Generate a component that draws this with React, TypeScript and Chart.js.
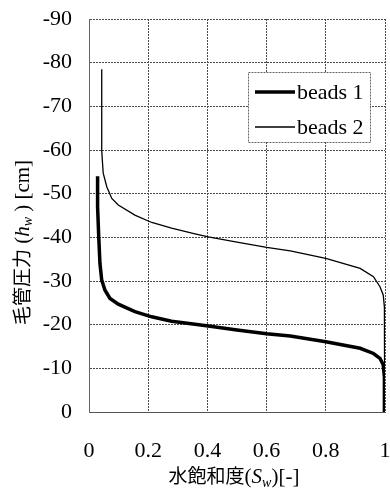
import React, { useEffect, useRef } from "react";
import { Chart, registerables } from "chart.js";

Chart.register(...registerables);

const seriesLabels = ["beads 1", "beads 2"];

const beads1X = [0.029, 0.029, 0.033, 0.037, 0.043, 0.054, 0.071, 0.099, 0.155, 0.212, 0.279, 0.358, 0.403, 0.5, 0.6, 0.68, 0.8, 0.916, 0.961, 0.983, 0.994, 0.998, 0.998];
const beads1Y = [-54, -47, -40, -34, -30.2, -27.9, -26.0, -24.7, -23.0, -21.8, -20.8, -20.1, -19.7, -18.8, -17.9, -17.4, -16.1, -14.6, -13.4, -12.3, -10.8, -8, 0];

const beads2X = [0.043, 0.043, 0.045, 0.048, 0.06, 0.077, 0.099, 0.155, 0.212, 0.279, 0.358, 0.403, 0.5, 0.6, 0.68, 0.8, 0.916, 0.961, 0.983, 0.994, 0.998, 0.999];
const beads2Y = [-78.5, -60, -57.7, -54.7, -51.6, -48.9, -47.4, -45.1, -43.4, -42.1, -40.8, -40.1, -38.9, -37.7, -36.9, -35.2, -32.9, -31.0, -28.7, -26.8, -24, 0];

const xTicks = [0, 0.2, 0.4, 0.6, 0.8, 1];
const yTicks = [0, -10, -20, -30, -40, -50, -60, -70, -80, -90];

const LATIN = "'Liberation Serif', 'Times New Roman', Times, serif";
const CJK = "'Noto Sans CJK JP', sans-serif";

type Piece = { t: string; size: number; italic?: boolean; dy?: number; cjk?: boolean };

function fontOf(p: Piece) {
  return `${p.italic ? "italic " : ""}${p.size}px ${p.cjk ? CJK : LATIN}`;
}

function drawPieces(ctx: CanvasRenderingContext2D, pieces: Piece[], cx: number, baseY: number) {
  let total = 0;
  const widths: number[] = [];
  for (const p of pieces) {
    ctx.font = fontOf(p);
    const w = ctx.measureText(p.t).width;
    widths.push(w);
    total += w;
  }
  let x = cx - total / 2;
  pieces.forEach((p, i) => {
    ctx.font = fontOf(p);
    ctx.fillText(p.t, x, baseY + (p.dy || 0));
    x += widths[i];
  });
}

const titlesPlugin = {
  id: "titlesPlugin",
  afterDraw(chart: any) {
    const ctx: CanvasRenderingContext2D = chart.ctx;
    const ca = chart.chartArea;
    ctx.save();
    ctx.fillStyle = "#000";
    ctx.textAlign = "left";
    ctx.textBaseline = "alphabetic";
    drawPieces(
      ctx,
      [
        { t: "水飽和度", size: 19, cjk: true },
        { t: "(", size: 21 },
        { t: "S", size: 21, italic: true },
        { t: "w", size: 14, italic: true, dy: 4 },
        { t: ")[-]", size: 21 },
      ],
      (ca.left + ca.right) / 2 - 3,
      483
    );
    ctx.translate(29, (ca.top + ca.bottom) / 2 + 27);
    ctx.rotate(-Math.PI / 2);
    drawPieces(
      ctx,
      [
        { t: "毛管圧力", size: 19, cjk: true },
        { t: " (", size: 21 },
        { t: "h", size: 21, italic: true },
        { t: "w", size: 14, italic: true, dy: 3 },
        { t: " ) [cm]", size: 21 },
      ],
      0,
      0
    );
    ctx.restore();

    const bx = ca.right - 137;
    const by = ca.top + 53;
    const bw = 122;
    const bh = 70;
    ctx.save();
    ctx.fillStyle = "#fff";
    ctx.fillRect(bx, by, bw, bh);
    ctx.strokeStyle = "#666";
    ctx.lineWidth = 1;
    ctx.setLineDash([2, 1]);
    ctx.strokeRect(bx + 0.5, by + 0.5, bw, bh);
    ctx.setLineDash([]);
    chart.data.datasets.forEach((ds: any, i: number) => {
      const y = by + 20 + i * 35;
      ctx.strokeStyle = ds.borderColor;
      ctx.lineWidth = ds.borderWidth;
      ctx.beginPath();
      ctx.moveTo(bx + 7, y);
      ctx.lineTo(bx + 47, y);
      ctx.stroke();
      ctx.fillStyle = "#000";
      ctx.font = `22px ${LATIN}`;
      ctx.textBaseline = "middle";
      ctx.fillText(ds.label, bx + 49, y + 1);
    });
    ctx.restore();
  },
};

const zeroPad = (s: any) => {
  s.paddingLeft = 0;
  s.paddingRight = 0;
  s.paddingTop = 0;
  s.paddingBottom = 0;
};

export default function App() {
  const ref = useRef<HTMLCanvasElement | null>(null);
  useEffect(() => {
    if (!ref.current) return;
    const chart = new Chart(ref.current, {
      type: "line",
      data: {
        datasets: [
          {
            label: seriesLabels[0],
            data: beads1X.map((x, i) => ({ x, y: beads1Y[i] })),
            borderColor: "#000",
            borderWidth: 3.5,
            pointRadius: 0,
            tension: 0,
            fill: false,
          },
          {
            label: seriesLabels[1],
            data: beads2X.map((x, i) => ({ x, y: beads2Y[i] })),
            borderColor: "#000",
            borderWidth: 1.3,
            pointRadius: 0,
            tension: 0,
            fill: false,
          },
        ],
      },
      options: {
        animation: false,
        responsive: true,
        maintainAspectRatio: false,
        layout: { padding: { top: 19, right: 5, left: 0, bottom: 0 } },
        plugins: { legend: { display: false }, tooltip: { enabled: false } },
        scales: {
          x: {
            type: "linear",
            min: 0,
            max: 1,
            afterBuildTicks: (s: any) => {
              s.ticks = xTicks.map((v) => ({ value: v }));
            },
            afterFit: (s: any) => {
              s.height = 85;
              zeroPad(s);
            },
            ticks: {
              color: "#000",
              font: { family: LATIN, size: 22 },
              padding: 26,
              maxRotation: 0,
              autoSkip: false,
              callback: (v: any) => String(v),
            },
            grid: { color: "#4a4a4a", drawTicks: false, tickLength: 0 },
            border: { display: true, color: "#555", dash: [2, 1] },
          },
          y: {
            type: "linear",
            min: -90,
            max: 0,
            reverse: true,
            afterBuildTicks: (s: any) => {
              s.ticks = yTicks.map((v) => ({ value: v }));
            },
            afterFit: (s: any) => {
              s.width = 89;
              zeroPad(s);
            },
            ticks: {
              color: "#000",
              font: { family: LATIN, size: 22 },
              padding: 17,
              autoSkip: false,
              callback: (v: any) => String(v),
            },
            grid: { color: "#4a4a4a", drawTicks: false, tickLength: 0 },
            border: { display: true, color: "#666", dash: [2, 1] },
          },
        },
      },
      plugins: [titlesPlugin],
    } as any);
    return () => chart.destroy();
  }, []);
  return (
    <div style={{ position: "absolute", left: 0, top: 0, width: 390, height: 497, background: "#fff" }}>
      <canvas ref={ref} />
    </div>
  );
}
